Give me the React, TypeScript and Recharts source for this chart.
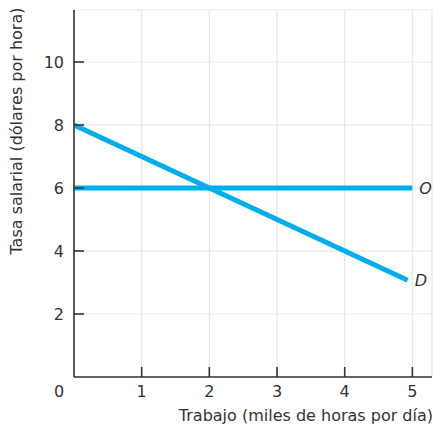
import { CartesianGrid, Label, Line, LineChart, XAxis, YAxis } from 'recharts'

const supplyX = [0, 5]
const supplyY = [6, 6]
const demandX = [0, 4.93]
const demandY = [8, 3.07]
const xTicks = [0, 1, 2, 3, 4, 5]
const yTicks = [2, 4, 6, 8, 10]

const supply = supplyX.map((x, i) => ({ x, y: supplyY[i] }))
const demand = demandX.map((x, i) => ({ x, y: demandY[i] }))

const FONT = '"DejaVu Sans", sans-serif'
const INK = '#333333'
const BLUE = '#00aeef'

const XTick = ({ x, y, payload }: any) => {
  if (payload.value === 0) {
    return (
      <text x={x - 15} y={y + 20} textAnchor="middle" fontSize={16} fill={INK} fontFamily={FONT}>
        0
      </text>
    )
  }
  return (
    <g>
      <line x1={x} x2={x} y1={y} y2={y - 10} stroke={INK} strokeWidth={1.6} />
      <text x={x} y={y + 20} textAnchor="middle" fontSize={16} fill={INK} fontFamily={FONT}>
        {payload.value}
      </text>
    </g>
  )
}

const YTick = ({ x, y, payload }: any) => (
  <g>
    <line x1={x} x2={x + 10} y1={y} y2={y} stroke={INK} strokeWidth={1.6} />
    <text x={x - 10} y={y + 6} textAnchor="end" fontSize={16} fill={INK} fontFamily={FONT}>
      {payload.value}
    </text>
  </g>
)

const endLabel = (text: string, count: number) => (props: any) => {
  if (props.index !== count - 1) return null
  return (
    <text
      x={props.x + 7}
      y={props.y + 6}
      fontSize={16}
      fontStyle="italic"
      fill={INK}
      fontFamily={FONT}
    >
      {text}
    </text>
  )
}

export default function App() {
  return (
    <div style={{ position: 'absolute', left: 0, top: 0, background: '#fff' }}>
      <LineChart width={435} height={431} margin={{ top: 10, right: 3, left: 0, bottom: 0 }}>
        <CartesianGrid stroke="#e6e6e6" strokeWidth={1.2} />
        <XAxis
          type="number"
          dataKey="x"
          domain={[0, 5.29]}
          ticks={xTicks}
          allowDataOverflow
          height={54}
          tickSize={0}
          tickMargin={0}
          tickLine={false}
          tick={<XTick />}
          axisLine={{ stroke: INK, strokeWidth: 1.6 }}
        >
          <Label
            content={() => (
              <text x={433} y={421} textAnchor="end" fontSize={16} fill={INK} fontFamily={FONT}>
                Trabajo (miles de horas por día)
              </text>
            )}
          />
        </XAxis>
        <YAxis
          type="number"
          domain={[0, 11.65]}
          ticks={yTicks}
          allowDataOverflow
          width={74}
          tickSize={0}
          tickMargin={0}
          tickLine={false}
          tick={<YTick />}
          axisLine={{ stroke: INK, strokeWidth: 1.6 }}
        >
          <Label
            content={() => (
              <text
                x={22}
                y={131}
                transform="rotate(-90 22 131)"
                textAnchor="middle"
                fontSize={16}
                fill={INK}
                fontFamily={FONT}
              >
                Tasa salarial (dólares por hora)
              </text>
            )}
          />
        </YAxis>
        <Line
          data={supply}
          dataKey="y"
          stroke={BLUE}
          strokeWidth={5}
          dot={false}
          isAnimationActive={false}
          label={endLabel('O', supply.length)}
        />
        <Line
          data={demand}
          dataKey="y"
          stroke={BLUE}
          strokeWidth={5}
          dot={false}
          isAnimationActive={false}
          label={endLabel('D', demand.length)}
        />
      </LineChart>
    </div>
  )
}
